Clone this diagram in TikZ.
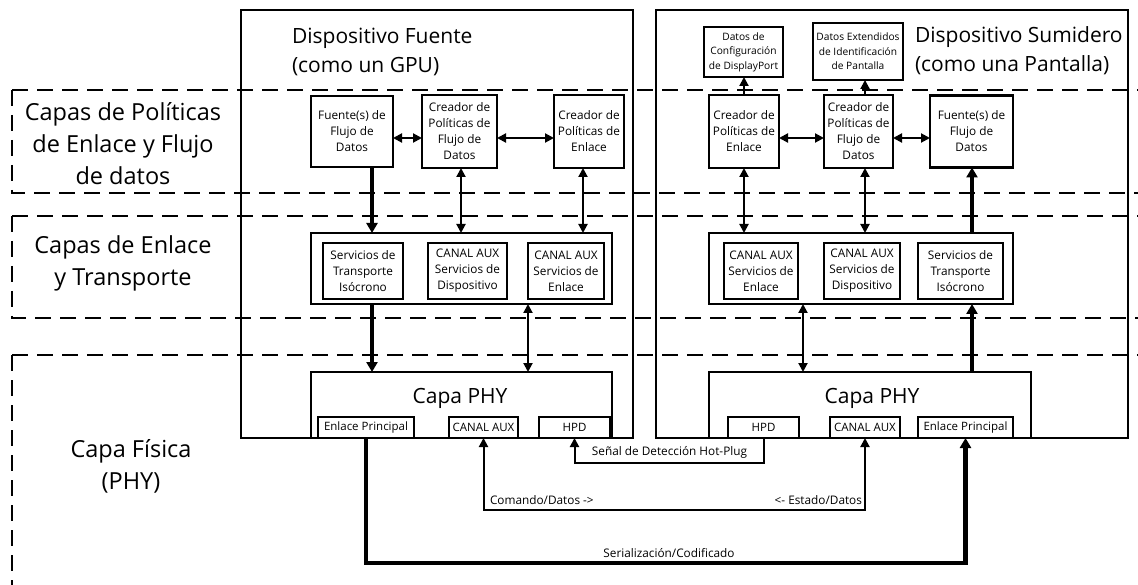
\documentclass[tikz,border=0pt]{standalone}
\usepackage{fontspec}
\setmainfont{Open Sans}
\usetikzlibrary{arrows.meta}
\begin{document}
\begin{tikzpicture}[x=1pt,y=-1pt,
  every node/.style={inner sep=0pt,outer sep=0pt},
  >={Triangle[length=9pt,width=9pt]},
  device/.style={draw,line width=2.2pt},
  blk/.style={draw,line width=2.4pt,align=center,font=\fontsize{11.8}{16}\selectfont},
  infobox/.style={draw,line width=2.2pt,align=center,font=\fontsize{10.2}{14.5}\selectfont},
  portbox/.style={draw,line width=2.2pt,font=\fontsize{11.5}{14}\selectfont},
  groupbox/.style={draw,line width=2.4pt},
  layerline/.style={line width=2.4pt,dash pattern=on 16pt off 9pt},
  devtitle/.style={align=left,font=\fontsize{21}{29}\selectfont},
  layertitle/.style={align=center,font=\fontsize{23.5}{32}\selectfont},
  phytitle/.style={font=\fontsize{21}{25}\selectfont},
  lbl/.style={font=\fontsize{11.8}{14}\selectfont},
  conn/.style={line width=2pt},
  bus/.style={line width=4.5pt,>={Triangle[length=10pt,width=11pt]}},
]
\useasboundingbox (0,0) rectangle (1138,585);

% devices
\node[device,minimum width=392pt,minimum height=428pt] (src) at (437,224) {};
\node[device,minimum width=472pt,minimum height=428pt] (snk) at (892,224) {};
\node[devtitle,anchor=west] (srcT) at (292,52) {Dispositivo Fuente\\(como un GPU)};
\node[devtitle,anchor=west] (snkT) at (915,50.5) {Dispositivo Sumidero\\(como una Pantalla)};

% layer names
\node[layertitle] (L1) at (123,143.5) {Capas de Políticas\\de Enlace y Flujo\\de datos};
\node[layertitle] (L2) at (123,263) {Capas de Enlace\\y Transporte};
\node[layertitle] (L3) at (131,466) {Capa Física\\(PHY)};

% policy layer, source
\node[blk,minimum width=82pt,minimum height=71pt] (srcFuente) at (352,131.5) {Fuente(s) de\\Flujo de\\Datos};
\node[blk,minimum width=75pt,minimum height=73pt] (srcFlujo) at (459.5,131.5) {Creador de\\Políticas de\\Flujo de\\Datos};
\node[blk,minimum width=70pt,minimum height=73pt] (srcEnlace) at (589,131.5) {Creador de\\Políticas de\\Enlace};

% policy layer, sink
\node[blk,minimum width=70pt,minimum height=73pt] (snkEnlace) at (744,131.5) {Creador de\\Políticas de\\Enlace};
\node[blk,minimum width=69pt,minimum height=73pt] (snkFlujo) at (858.5,131.5) {Creador de\\Políticas de\\Flujo de\\Datos};
\node[blk,minimum width=83pt,minimum height=72pt] (snkFuente) at (971.5,131.5) {Fuente(s) de\\Flujo de\\Datos};
\node[infobox,minimum width=79pt,minimum height=50pt] (cfg) at (743.5,52) {Datos de\\Configuración\\de DisplayPort};
\node[infobox,minimum width=90pt,minimum height=57pt] (edid) at (858,51.5) {Datos Extendidos\\de Identificación\\de Pantalla};

% link and transport layer
\node[groupbox,minimum width=301pt,minimum height=71pt] (srcLT) at (461.5,268.5) {};
\node[blk,minimum width=80pt,minimum height=56pt] (srcISO) at (363,271) {Servicios de\\Transporte\\Isócrono};
\node[blk,minimum width=79pt,minimum height=56pt] (srcAUXD) at (467.5,271) {CANAL AUX\\Servicios de\\Dispositivo};
\node[blk,minimum width=76pt,minimum height=56pt] (srcAUXL) at (566,271) {CANAL AUX\\Servicios de\\Enlace};
\node[groupbox,minimum width=304pt,minimum height=71pt] (snkLT) at (861,268.5) {};
\node[blk,minimum width=74pt,minimum height=56pt] (snkAUXL) at (761,271) {CANAL AUX\\Servicios de\\Enlace};
\node[blk,minimum width=76pt,minimum height=56pt] (snkAUXD) at (862,271) {CANAL AUX\\Servicios de\\Dispositivo};
\node[blk,minimum width=85pt,minimum height=56pt] (snkISO) at (960.5,271) {Servicios de\\Transporte\\Isócrono};

% physical layer
\node[groupbox,minimum width=301pt,minimum height=66pt] (srcPHY) at (461.5,405) {};
\node[phytitle] (srcPHYt) at (460,398) {Capa PHY};
\node[portbox,minimum width=96pt,minimum height=21pt] (srcMain) at (366,427.5) {Enlace Principal};
\node[portbox,minimum width=69pt,minimum height=21pt] (srcAUX) at (483.5,427.5) {CANAL AUX};
\node[portbox,minimum width=71pt,minimum height=21pt] (srcHPD) at (574.5,427.5) {HPD};
\node[groupbox,minimum width=322pt,minimum height=66pt] (snkPHY) at (870,405) {};
\node[phytitle] (snkPHYt) at (872,398) {Capa PHY};
\node[portbox,minimum width=71pt,minimum height=21pt] (snkHPD) at (763.5,427.5) {HPD};
\node[portbox,minimum width=70pt,minimum height=21pt] (snkAUX) at (865,427.5) {CANAL AUX};
\node[portbox,minimum width=95pt,minimum height=21pt] (snkMain) at (965.5,427.5) {Enlace Principal};

% layer outlines
\draw[layerline] (12,90) -- (1138,90);
\draw[layerline] (12,90) -- (12,193) -- (1138,193);
\draw[layerline] (12,216) -- (1138,216);
\draw[layerline] (12,216) -- (12,318) -- (1138,318);
\draw[layerline] (12,355) -- (1138,355);
\draw[layerline] (12,355) -- (12,590);

% connector columns
\coordinate (sA) at (372,0);
\coordinate (sB) at (461,0);
\coordinate (sC) at (583,0);
\coordinate (sD) at (528,0);
\coordinate (kA) at (744,0);
\coordinate (kB) at (865,0);
\coordinate (kC) at (972,0);
\coordinate (kD) at (803,0);
\coordinate (rowH) at (0,138);

% source connectors
\draw[conn,<->] (srcFuente.east |- rowH) -- (srcFlujo.west |- rowH);
\draw[conn,<->] (srcFlujo.east |- rowH) -- (srcEnlace.west |- rowH);
\draw[bus,->] (srcFuente.south -| sA) -- (srcLT.north -| sA);
\draw[conn,<->] (srcFlujo.south -| sB) -- (srcLT.north -| sB);
\draw[conn,<->] (srcEnlace.south -| sC) -- (srcLT.north -| sC);
\draw[bus,->] (srcLT.south -| sA) -- (srcPHY.north -| sA);
\draw[conn,<->] (srcLT.south -| sD) -- (srcPHY.north -| sD);

% sink connectors
\draw[conn,<->] (snkEnlace.east |- rowH) -- (snkFlujo.west |- rowH);
\draw[conn,<->] (snkFlujo.east |- rowH) -- (snkFuente.west |- rowH);
\draw[conn,->] (snkEnlace.north -| kA) -- (cfg.south -| kA);
\draw[conn,->] (snkFlujo.north -| kB) -- (edid.south -| kB);
\draw[conn,<->] (snkLT.north -| kA) -- (snkEnlace.south -| kA);
\draw[conn,<->] (snkLT.north -| kB) -- (snkFlujo.south -| kB);
\draw[bus,->] (snkLT.north -| kC) -- (snkFuente.south -| kC);
\draw[conn,<->] (snkPHY.north -| kD) -- (snkLT.south -| kD);
\draw[bus,->] (snkPHY.north -| kC) -- (snkLT.south -| kC);

% cable between the devices
\draw[conn,->] (snkHPD.south) -- ++(0,25) -| (srcHPD.south);
\draw[conn,<->] (srcAUX.south) -- ++(0,72) -| (snkAUX.south);
\draw[bus,->] (srcMain.south) -- ++(0,125) -| (snkMain.south);
\node[lbl] (hpdL) at (669.5,452) {Señal de Detección Hot-Plug};
\node[lbl,anchor=west] (cmdL) at (490,500) {Comando/Datos ->};
\node[lbl,anchor=east] (stsL) at (862,500) {<- Estado/Datos};
\node[lbl] (serL) at (669,553) {Serialización/Codificado};
\end{tikzpicture}
\end{document}
